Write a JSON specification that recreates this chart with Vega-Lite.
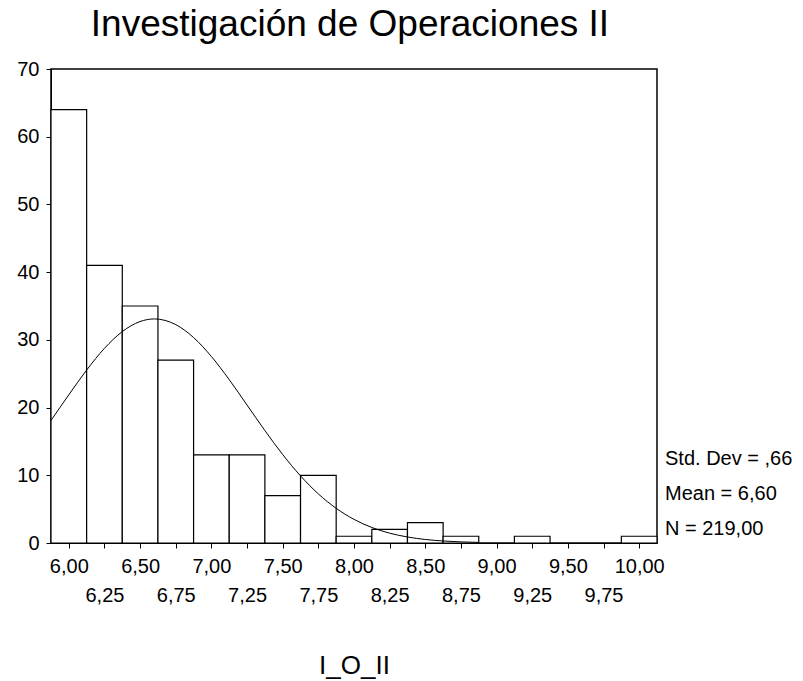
{
  "$schema": "https://vega.github.io/schema/vega-lite/v6.json",
  "width": 606,
  "height": 474,
  "autosize": {"type": "none"},
  "padding": {"left": 51, "top": 69, "right": 146, "bottom": 138},
  "background": "white",
  "config": {
    "font": "Liberation Sans",
    "view": {"stroke": "black", "strokeWidth": 1.5},
    "axis": {"grid": false, "domainColor": "black", "tickColor": "black", "labelColor": "black", "titleColor": "black", "labelFont": "Liberation Sans", "titleFont": "Liberation Sans"}
  },
  "title": {
    "text": "Investigación de Operaciones II",
    "fontSize": 37,
    "fontWeight": "normal",
    "font": "Liberation Sans",
    "color": "black",
    "anchor": "middle",
    "offset": 15,
    "dx": -4
  },
  "resolve": {"axis": {"x": "independent"}},
  "datasets": {
    "bins": [
      {"start": 5.875, "end": 6.125, "count": 64},
      {"start": 6.125, "end": 6.375, "count": 41},
      {"start": 6.375, "end": 6.625, "count": 35},
      {"start": 6.625, "end": 6.875, "count": 27},
      {"start": 6.875, "end": 7.125, "count": 13},
      {"start": 7.125, "end": 7.375, "count": 13},
      {"start": 7.375, "end": 7.625, "count": 7},
      {"start": 7.625, "end": 7.875, "count": 10},
      {"start": 7.875, "end": 8.125, "count": 1},
      {"start": 8.125, "end": 8.375, "count": 2},
      {"start": 8.375, "end": 8.625, "count": 3},
      {"start": 8.625, "end": 8.875, "count": 1},
      {"start": 9.125, "end": 9.375, "count": 1},
      {"start": 9.875, "end": 10.125, "count": 1}
    ],
    "curve": [
      {"x": 5.875, "y": 18.10},
      {"x": 6.0, "y": 21.89},
      {"x": 6.125, "y": 25.54},
      {"x": 6.25, "y": 28.75},
      {"x": 6.375, "y": 31.22},
      {"x": 6.5, "y": 32.71},
      {"x": 6.6, "y": 33.09},
      {"x": 6.75, "y": 32.25},
      {"x": 6.875, "y": 30.34},
      {"x": 7.0, "y": 27.54},
      {"x": 7.125, "y": 24.12},
      {"x": 7.25, "y": 20.37},
      {"x": 7.375, "y": 16.61},
      {"x": 7.5, "y": 13.06},
      {"x": 7.625, "y": 9.91},
      {"x": 7.75, "y": 7.25},
      {"x": 7.875, "y": 5.12},
      {"x": 8.0, "y": 3.49},
      {"x": 8.125, "y": 2.29},
      {"x": 8.25, "y": 1.45},
      {"x": 8.375, "y": 0.89},
      {"x": 8.5, "y": 0.52},
      {"x": 8.625, "y": 0.30},
      {"x": 8.75, "y": 0.16},
      {"x": 8.875, "y": 0.09}
    ]
  },
  "layer": [
    {
      "data": {"name": "bins"},
      "mark": {"type": "rect", "fill": "white", "stroke": "black", "strokeWidth": 1.2},
      "encoding": {
        "x": {
          "field": "start",
          "type": "quantitative",
          "scale": {"domain": [5.875, 10.125], "nice": false, "zero": false},
          "axis": {
            "orient": "bottom",
            "values": [6, 6.25, 6.5, 6.75, 7, 7.25, 7.5, 7.75, 8, 8.25, 8.5, 8.75, 9, 9.25, 9.5, 9.75, 10],
            "labelExpr": "round(datum.value * 4) % 2 == 1 ? '' : replace(format(datum.value, '.2f'), '.', ',')",
            "labelFontSize": 20,
            "labelPadding": 8,
            "tickSize": 5,
            "labelOverlap": false,
            "labelFlush": false,
            "labelBound": false,
            "title": null
          }
        },
        "x2": {"field": "end"},
        "y": {
          "field": "count",
          "type": "quantitative",
          "scale": {"domain": [0, 70], "nice": false},
          "axis": {"values": [0, 10, 20, 30, 40, 50, 60, 70], "labelFontSize": 20, "labelPadding": 7, "tickSize": 5, "title": null}
        },
        "y2": {"datum": 0}
      }
    },
    {
      "data": {"name": "curve"},
      "mark": {"type": "line", "color": "black", "strokeWidth": 1, "interpolate": "monotone"},
      "encoding": {
        "x": {
          "field": "x",
          "type": "quantitative",
          "axis": {
            "orient": "bottom",
            "values": [6.25, 6.75, 7.25, 7.75, 8.25, 8.75, 9.25, 9.75],
            "labelExpr": "replace(format(datum.value, '.2f'), '.', ',')",
            "labelFontSize": 20,
            "labelPadding": 42,
            "ticks": false,
            "domain": false,
            "labelOverlap": false,
            "labelFlush": false,
            "labelBound": false,
            "title": "I_O_II",
            "titleFontSize": 26,
            "titleFontWeight": "normal",
            "titlePadding": 47
          }
        },
        "y": {"field": "y", "type": "quantitative"}
      }
    },
    {
      "data": {"values": [{"label": "Std. Dev = ,66"}]},
      "mark": {"type": "text", "align": "left", "baseline": "alphabetic", "fontSize": 20, "dx": 8, "color": "black"},
      "encoding": {"x": {"datum": 10.125, "axis": null}, "y": {"datum": 11.5}, "text": {"field": "label"}}
    },
    {
      "data": {"values": [{"label": "Mean = 6,60"}]},
      "mark": {"type": "text", "align": "left", "baseline": "alphabetic", "fontSize": 20, "dx": 8, "color": "black"},
      "encoding": {"x": {"datum": 10.125, "axis": null}, "y": {"datum": 6.3}, "text": {"field": "label"}}
    },
    {
      "data": {"values": [{"label": "N = 219,00"}]},
      "mark": {"type": "text", "align": "left", "baseline": "alphabetic", "fontSize": 20, "dx": 8, "color": "black"},
      "encoding": {"x": {"datum": 10.125, "axis": null}, "y": {"datum": 1.2}, "text": {"field": "label"}}
    }
  ]
}
